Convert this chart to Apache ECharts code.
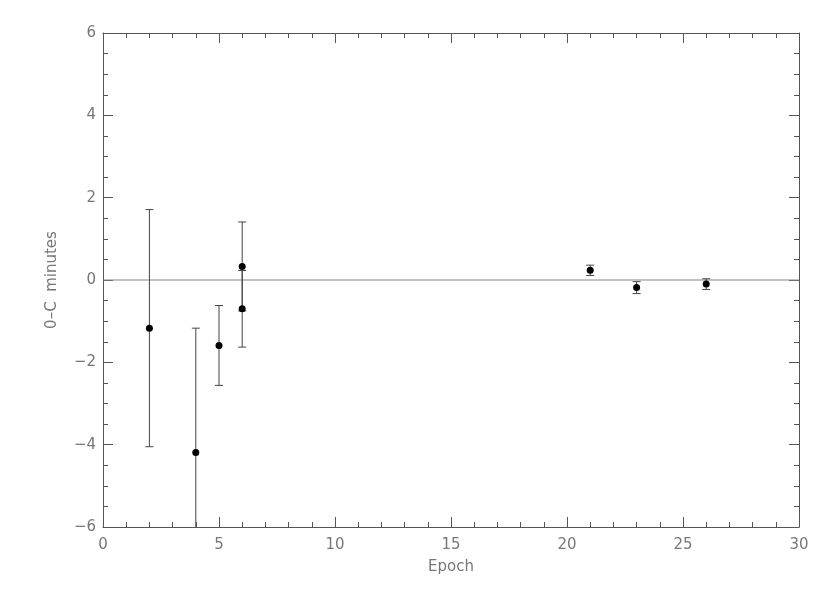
<!DOCTYPE html>
<html>
<head>
<meta charset="utf-8">
<script src="https://cdn.jsdelivr.net/npm/echarts@6/dist/echarts.min.js"></script>
<style>html,body{margin:0;padding:0;background:#fff}#c{width:830px;height:593px}</style>
</head>
<body>
<div id="c"></div>
<script>
const epochs = [2, 4, 5, 6, 6, 21, 23, 26];
const ocMinutes = [-1.17, -4.19, -1.59, 0.33, -0.70, 0.235, -0.185, -0.10];
const errMinutes = [2.88, 3.02, 0.97, 1.08, 0.93, 0.125, 0.145, 0.13];
const xRange = [0, 30];
const yRange = [-6, 6];

const pts = epochs.map((e, i) => [e, ocMinutes[i]]);
const bars = epochs.map((e, i) => [e, ocMinutes[i], errMinutes[i]]);

const axisColor = '#555';
const textColor = '#777';
const fontFam = 'DejaVu Sans';
const fmt = v => (v < 0 ? '\u2212' + Math.abs(v) : String(v));

const chart = echarts.init(document.getElementById('c'));
const baseX = {
  type: 'value', min: xRange[0], max: xRange[1], interval: 5,
  axisLine: { show: true, onZero: false, lineStyle: { color: axisColor, width: 1 } },
  axisTick: { show: true, inside: true, length: 10, lineStyle: { color: axisColor } },
  minorTick: { show: true, splitNumber: 5, length: 5, lineStyle: { color: axisColor } },
  splitLine: { show: false }
};
const baseY = {
  type: 'value', min: yRange[0], max: yRange[1], interval: 2,
  axisLine: { show: true, onZero: false, lineStyle: { color: axisColor, width: 1 } },
  axisTick: { show: true, inside: true, length: 10, lineStyle: { color: axisColor } },
  minorTick: { show: true, splitNumber: 4, length: 5, lineStyle: { color: axisColor } },
  splitLine: { show: false }
};
chart.setOption({
  animation: false,
  grid: { left: 103, right: 31, top: 33, bottom: 66, containLabel: false },
  xAxis: [
    Object.assign({}, baseX, {
      position: 'bottom',
      name: 'Epoch', nameLocation: 'middle', nameGap: 33,
      nameTextStyle: { color: textColor, fontSize: 15, fontFamily: fontFam },
      axisLabel: { color: textColor, fontSize: 15, fontFamily: fontFam, margin: 11, formatter: fmt }
    }),
    Object.assign({}, baseX, { position: 'top', axisLabel: { show: false } })
  ],
  yAxis: [
    Object.assign({}, baseY, {
      position: 'left',
      name: '0\u2013C  minutes', nameLocation: 'middle', nameGap: 43,
      nameTextStyle: { color: textColor, fontSize: 15, fontFamily: fontFam },
      axisLabel: { color: textColor, fontSize: 15, fontFamily: fontFam, margin: 7, formatter: fmt }
    }),
    Object.assign({}, baseY, { position: 'right', axisLabel: { show: false } })
  ],
  series: [
    {
      type: 'line', data: [[xRange[0], 0], [xRange[1], 0]], symbol: 'none',
      lineStyle: { color: '#888', width: 1.2 }, silent: true, z: 1
    },
    {
      type: 'custom', data: bars, z: 2,
      renderItem: function (params, api) {
        const x = api.value(0), y = api.value(1), e = api.value(2);
        const hiV = Math.min(y + e, yRange[1]);
        const loV = Math.max(y - e, yRange[0]);
        const hi = api.coord([x, hiV]);
        const lo = api.coord([x, loV]);
        const w = 4;
        const style = { stroke: '#444', lineWidth: 1 };
        const children = [
          { type: 'line', shape: { x1: hi[0], y1: hi[1], x2: lo[0], y2: lo[1] }, style: style }
        ];
        if (y + e <= yRange[1]) children.push({ type: 'line', shape: { x1: hi[0] - w, y1: hi[1], x2: hi[0] + w, y2: hi[1] }, style: style });
        if (y - e >= yRange[0]) children.push({ type: 'line', shape: { x1: lo[0] - w, y1: lo[1], x2: lo[0] + w, y2: lo[1] }, style: style });
        return { type: 'group', children: children };
      }
    },
    {
      type: 'scatter', data: pts, symbol: 'circle', symbolSize: 7, z: 3,
      itemStyle: { color: '#000', opacity: 1 }
    }
  ]
});
</script>
</body>
</html>
